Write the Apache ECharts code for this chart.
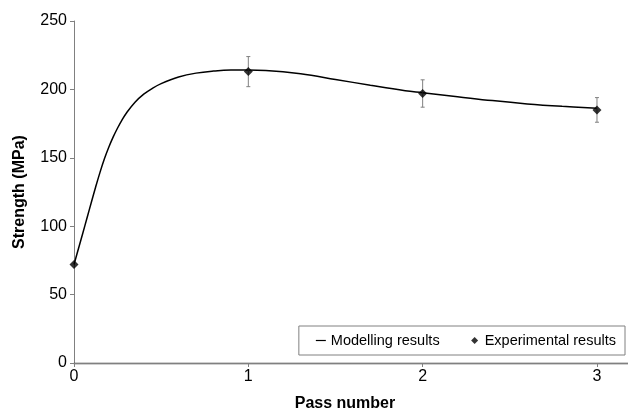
<!DOCTYPE html>
<html>
<head>
<meta charset="utf-8">
<script src="https://cdn.jsdelivr.net/npm/echarts@6/dist/echarts.min.js"></script>
<style>
html,body{margin:0;padding:0;background:#fff;}
#chart{width:628px;height:417px;}
</style>
</head>
<body>
<div id="chart"></div>
<script>
// Modelling curve (pass number, strength MPa)
var curveX = [0, 0.025, 0.05, 0.075, 0.1, 0.125, 0.15, 0.175, 0.2, 0.225, 0.25, 0.275, 0.3, 0.35, 0.4, 0.45, 0.5, 0.6, 0.7, 0.8, 0.9, 1.0, 1.1, 1.3, 1.5, 1.7, 1.9, 2.0, 2.2, 2.4, 2.6, 2.8, 3.0];
var curveY = [72, 83.3, 94.7, 106.2, 117.7, 129.0, 139.7, 149.4, 157.9, 165.3, 171.8, 177.6, 182.6, 190.6, 196.5, 200.8, 204.2, 209, 211.9, 213.4, 214.1, 214.1, 213.8, 211.4, 207.3, 203, 199, 197.6, 194.7, 191.8, 189.4, 187.6, 186.2];
// Experimental results
var expX = [0, 1, 2, 3];
var expY = [72, 213, 197, 185];
var expErr = [0, 11, 10, 9];
var xTicks = [0, 1, 2, 3];

var curveData = curveX.map(function (x, i) { return [x, curveY[i]]; });
var expData = expX.map(function (x, i) { return [x, expY[i]]; });
var errData = expX.map(function (x, i) { return [x, expY[i] - expErr[i], expY[i] + expErr[i]]; })
  .filter(function (d) { return d[2] > d[1]; });

var font = 'Liberation Sans, Arial, sans-serif';
var chart = echarts.init(document.getElementById('chart'), null, { renderer: 'canvas' });
chart.setOption({
  animation: false,
  backgroundColor: '#ffffff',
  textStyle: { fontFamily: font },
  grid: { left: 74, right: 0, top: 21, bottom: 50, containLabel: false },
  legend: {
    right: 3, top: 326,
    orient: 'horizontal',
    backgroundColor: '#ffffff',
    borderColor: '#808080', borderWidth: 1, borderRadius: 0,
    padding: [7, 9, 7, 17],
    itemWidth: 10, itemHeight: 10, itemGap: 30,
    textStyle: { fontFamily: font, fontSize: 14.5, color: '#000' },
    data: [
      { name: 'Modelling results', icon: 'path://M0,0 M10,10 M0,4.4 L10,4.4 L10,5.6 L0,5.6 Z', itemStyle: { color: '#000' } },
      { name: 'Experimental results', icon: 'path://M0,0 M10,10 M5,1.5 L8.5,5 L5,8.5 L1.5,5 Z', itemStyle: { color: '#000' } }
    ]
  },
  xAxis: [{
    type: 'value', min: 0, max: 3.178, position: 'bottom',
    name: 'Pass number', nameLocation: 'middle', nameGap: 33,
    nameTextStyle: { fontFamily: font, fontSize: 16, fontWeight: 'bold', color: '#000', padding: [0, 12, 0, 0] },
    axisLine: { show: true, onZero: false, lineStyle: { color: '#404040', width: 1.3 } },
    axisTick: { show: true, length: 4, inside: false, customValues: xTicks, lineStyle: { color: '#808080' } },
    axisLabel: { customValues: xTicks, fontSize: 16, color: '#000', margin: 6, fontFamily: font },
    splitLine: { show: false }
  }, {
    type: 'value', min: 0, max: 3.178, position: 'top',
    axisLine: { show: true, lineStyle: { color: '#808080', width: 1 } },
    axisTick: { show: false }, axisLabel: { show: false }, splitLine: { show: false }
  }],
  yAxis: {
    type: 'value', min: 0, max: 250, interval: 50,
    name: 'Strength (MPa)', nameLocation: 'middle', nameGap: 46, nameRotate: 90,
    nameTextStyle: { fontFamily: font, fontSize: 16, fontWeight: 'bold', color: '#000' },
    axisLine: { show: true, lineStyle: { color: '#808080', width: 1 } },
    axisTick: { show: true, length: 4, lineStyle: { color: '#808080' } },
    axisLabel: { fontSize: 16, color: '#000', margin: 7, fontFamily: font },
    splitLine: { show: false }
  },
  series: [
    {
      name: 'Modelling results', type: 'line', data: curveData, smooth: 0.4,
      showSymbol: false, symbol: 'none',
      lineStyle: { color: '#000', width: 1.5 }, itemStyle: { color: '#000' }, z: 3
    },
    {
      name: 'Error bars', type: 'custom', data: errData, z: 4,
      renderItem: function (params, api) {
        var x = api.value(0);
        var lo = api.coord([x, api.value(1)]);
        var hi = api.coord([x, api.value(2)]);
        var cw = 2;
        var st = { stroke: '#808080', lineWidth: 1 };
        return {
          type: 'group',
          children: [
            { type: 'line', shape: { x1: lo[0], y1: lo[1], x2: hi[0], y2: hi[1] }, style: st },
            { type: 'line', shape: { x1: lo[0] - cw, y1: lo[1], x2: lo[0] + cw, y2: lo[1] }, style: st },
            { type: 'line', shape: { x1: hi[0] - cw, y1: hi[1], x2: hi[0] + cw, y2: hi[1] }, style: st }
          ]
        };
      }
    },
    {
      name: 'Experimental results', type: 'scatter', data: expData,
      symbol: 'diamond', symbolSize: 9, itemStyle: { color: '#000' }, z: 5
    }
  ]
});
</script>
</body>
</html>
